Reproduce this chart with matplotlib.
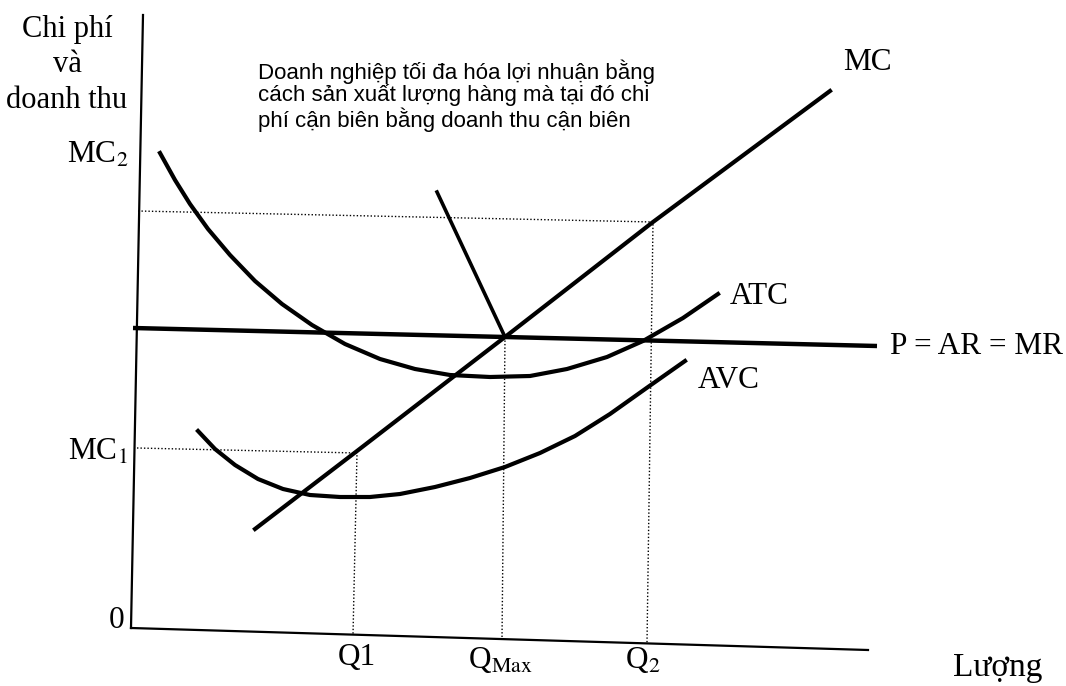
import matplotlib.pyplot as plt

plt.rcParams['font.family'] = ['Liberation Serif', 'DejaVu Serif']
plt.rcParams['mathtext.fontset'] = 'stix'

# Trục toạ độ (lượng, chi phí)
y_axis_q = [12, 0]
y_axis_c = [613, 0]
x_axis_q = [0, 737]
x_axis_c = [0, -22]

# Đường giá P = AR = MR
p_q = [2, 746]
p_c = [300, 282]

# Chi phí cận biên
mc_q = [124, 226, 374, 522, 699]
mc_c = [99, 177, 291, 406, 537]

# Đoạn chỉ vào điểm MC = MR
arrow_q = [306, 374]
arrow_c = [436, 291]

# Chi phí bình quân
atc_q = [29, 44, 59, 77, 99, 124, 151, 181, 214, 249, 284, 319, 359, 399, 436, 476, 512, 552, 587]
atc_c = [475, 448, 424, 399, 373, 347, 324, 303, 284, 269, 259, 253, 251, 252, 259, 271, 287, 310, 334]

# Chi phí biến đổi bình quân
avc_q = [67, 84, 104, 127, 152, 179, 209, 239, 269, 304, 339, 374, 409, 444, 479, 517, 554]
avc_c = [197, 179, 163, 149, 139, 133, 131, 131, 134, 141, 150, 161, 175, 192, 214, 241, 267]

# Các đường gióng
mc2_q = [7, 522, 516]
mc2_c = [417, 406, -15]
mc1_q = [6, 226, 222]
mc1_c = [180, 175, -7]
qmax_q = [374, 371]
qmax_c = [291, -11]

fig = plt.figure(figsize=(10.66, 6.86), dpi=100)
ax = fig.add_axes([0, 0, 1, 1])
ax.set_xlim(-131, 935)
ax.set_ylim(-58, 628)
ax.axis('off')

ax.plot(y_axis_q, y_axis_c, color='black', lw=1.6)
ax.plot(x_axis_q, x_axis_c, color='black', lw=1.6)

for q, c in [(mc2_q, mc2_c), (mc1_q, mc1_c), (qmax_q, qmax_c)]:
    ax.plot(q, c, color='black', lw=1.0, linestyle=(0, (1, 1.5)))

lw = 3.0
ax.plot(p_q, p_c, color='black', lw=3.2, solid_capstyle='butt')
ax.plot(mc_q, mc_c, color='black', lw=lw, solid_joinstyle='round')
ax.plot(arrow_q, arrow_c, color='black', lw=2.6)
ax.plot(atc_q, atc_c, color='black', lw=lw, solid_joinstyle='round')
ax.plot(avc_q, avc_c, color='black', lw=lw, solid_joinstyle='round')

fs = 22.5
ax.text(-64, 563, 'Chi phí\nvà\ndoanh thu', ha='center', va='center',
        fontsize=22, linespacing=1.3)
ax.text(-3, 473, 'MC$_2$', ha='right', va='center', fontsize=fs)
ax.text(-3, 176, 'MC$_1$', ha='right', va='center', fontsize=fs)
ax.text(-7, 8, '0', ha='right', va='center', fontsize=fs)

ax.text(226, -29, 'Q1', ha='center', va='center', fontsize=fs)
ax.text(369, -32, 'Q$_{\\mathrm{Max}}$', ha='center', va='center', fontsize=fs)
ax.text(512, -32, 'Q$_2$', ha='center', va='center', fontsize=fs)
ax.text(822, -40, 'Lượng', ha='left', va='center', fontsize=24)

ax.text(712, 566, 'MC', ha='left', va='center', fontsize=fs)
ax.text(599, 332, 'ATC', ha='left', va='center', fontsize=fs)
ax.text(567, 248, 'AVC', ha='left', va='center', fontsize=fs)
ax.text(759, 281, 'P = AR = MR', ha='left', va='center', fontsize=fs)

ax.text(127, 569,
        'Doanh nghiệp tối đa hóa lợi nhuận bằng\n'
        'cách sản xuất lượng hàng mà tại đó chi\n'
        'phí cận biên bằng doanh thu cận biên',
        ha='left', va='top', fontsize=16, linespacing=1.05,
        family=['Liberation Sans Narrow', 'Liberation Sans', 'DejaVu Sans'])

fig.savefig('out.png', dpi=100)
